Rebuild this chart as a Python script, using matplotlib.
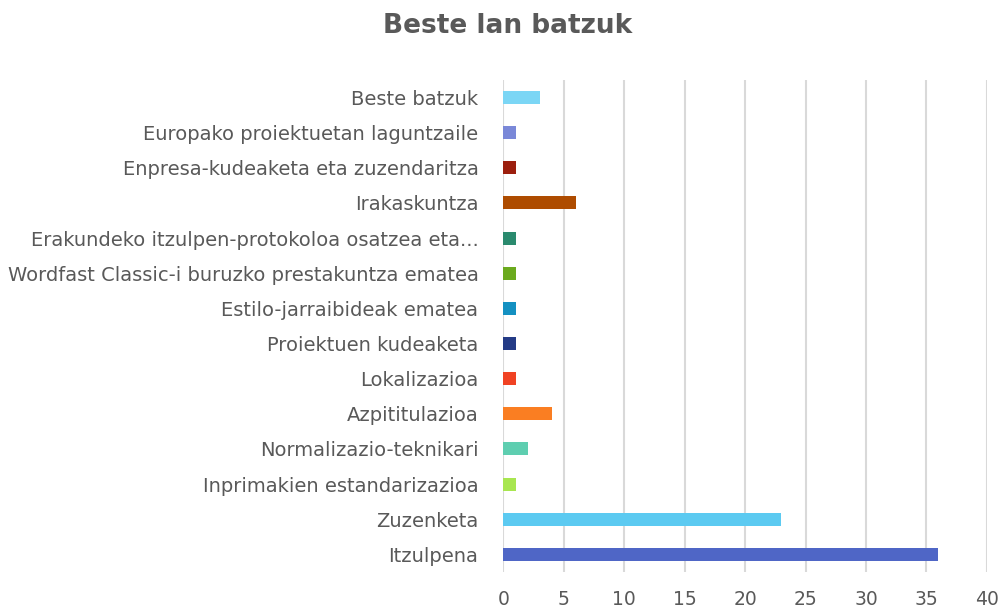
import matplotlib
matplotlib.use("Agg")
import matplotlib.pyplot as plt

# datuak (behetik gora)
kategoriak = [
    "Itzulpena",
    "Zuzenketa",
    "Inprimakien estandarizazioa",
    "Normalizazio-teknikari",
    "Azpititulazioa",
    "Lokalizazioa",
    "Proiektuen kudeaketa",
    "Estilo-jarraibideak ematea",
    "Wordfast Classic-i buruzko prestakuntza ematea",
    "Erakundeko itzulpen-protokoloa osatzea eta...",
    "Irakaskuntza",
    "Enpresa-kudeaketa eta zuzendaritza",
    "Europako proiektuetan laguntzaile",
    "Beste batzuk",
]
balioak = [36, 23, 1, 2, 4, 1, 1, 1, 1, 1, 6, 1, 1, 3]
koloreak = [
    "#4F66C6", "#5CCAF1", "#A8E650", "#5ECEB0", "#FA7E22", "#F04223",
    "#243B86", "#1490C1", "#6BAA1E", "#2A8A6E", "#AE4C00", "#9C1F0E",
    "#7A88D8", "#7BD6F5",
]
x_tikak = [0, 5, 10, 15, 20, 25, 30, 35, 40]

fig = plt.figure(figsize=(10.08, 6.13), dpi=100)
ax = fig.add_axes([0.4995, 0.067, 0.4795, 0.8025])

ax.barh(range(len(kategoriak)), balioak, height=0.37, color=koloreak, zorder=3)

ax.set_xlim(0, 40)
ax.set_ylim(-0.5, 13.5)
ax.set_xticks(x_tikak)
ax.set_yticks(range(len(kategoriak)))
ax.set_yticklabels(kategoriak)

ax.grid(axis="x", color="#D9D9D9", linewidth=1.5, zorder=0)
for s in ax.spines.values():
    s.set_visible(False)

ax.tick_params(axis="x", length=0, pad=13, labelsize=13.5, labelcolor="#595959")
ax.tick_params(axis="y", length=0, pad=18, labelsize=14, labelcolor="#595959")

fig.suptitle("Beste lan batzuk", x=0.504, y=0.978, fontsize=19,
             fontweight="bold", color="#595959")

fig.savefig("out.png", dpi=100)
